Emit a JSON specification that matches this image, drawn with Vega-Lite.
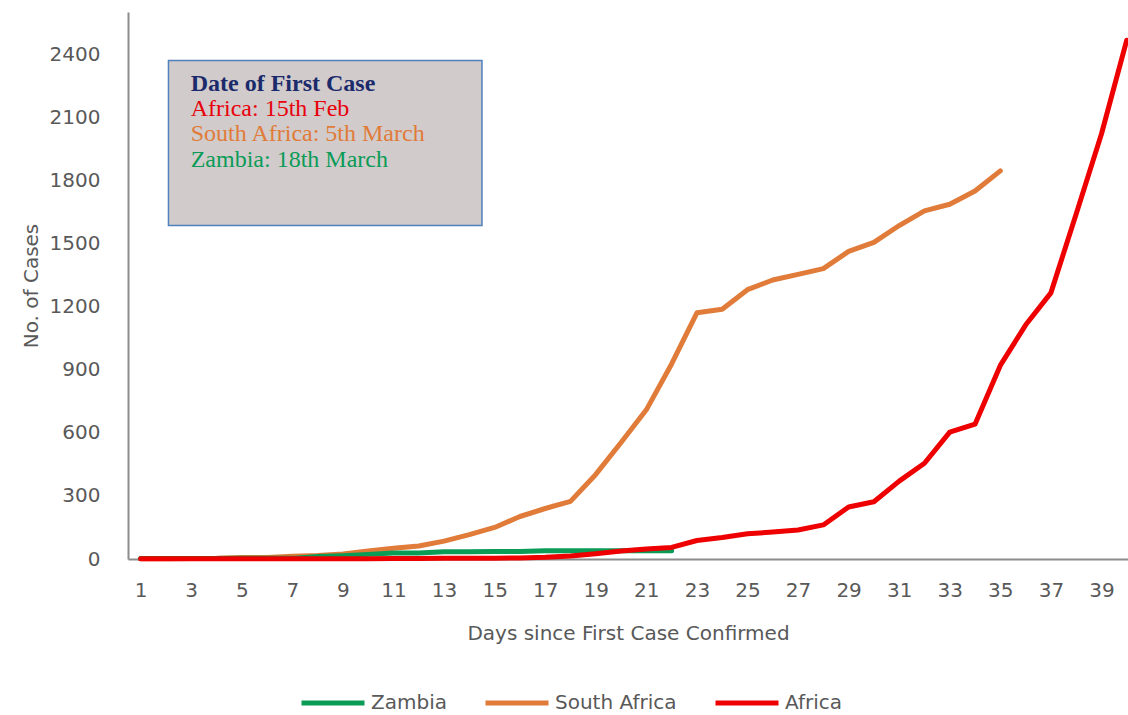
{
  "$schema": "https://vega.github.io/schema/vega-lite/v6.json",
  "autosize": "none",
  "width": 1000,
  "height": 547,
  "padding": {"left": 128, "top": 12, "right": 0, "bottom": 156},
  "background": "white",
  "config": {
    "view": {"stroke": null},
    "font": "DejaVu Sans"
  },
  "datasets": {
    "cases": [
      {"day": 1, "cases": 1, "country": "South Africa"},
      {"day": 2, "cases": 1, "country": "South Africa"},
      {"day": 3, "cases": 2, "country": "South Africa"},
      {"day": 4, "cases": 3, "country": "South Africa"},
      {"day": 5, "cases": 7, "country": "South Africa"},
      {"day": 6, "cases": 7, "country": "South Africa"},
      {"day": 7, "cases": 13, "country": "South Africa"},
      {"day": 8, "cases": 17, "country": "South Africa"},
      {"day": 9, "cases": 24, "country": "South Africa"},
      {"day": 10, "cases": 38, "country": "South Africa"},
      {"day": 11, "cases": 51, "country": "South Africa"},
      {"day": 12, "cases": 62, "country": "South Africa"},
      {"day": 13, "cases": 85, "country": "South Africa"},
      {"day": 14, "cases": 116, "country": "South Africa"},
      {"day": 15, "cases": 150, "country": "South Africa"},
      {"day": 16, "cases": 202, "country": "South Africa"},
      {"day": 17, "cases": 240, "country": "South Africa"},
      {"day": 18, "cases": 274, "country": "South Africa"},
      {"day": 19, "cases": 402, "country": "South Africa"},
      {"day": 20, "cases": 554, "country": "South Africa"},
      {"day": 21, "cases": 709, "country": "South Africa"},
      {"day": 22, "cases": 927, "country": "South Africa"},
      {"day": 23, "cases": 1170, "country": "South Africa"},
      {"day": 24, "cases": 1187, "country": "South Africa"},
      {"day": 25, "cases": 1280, "country": "South Africa"},
      {"day": 26, "cases": 1326, "country": "South Africa"},
      {"day": 27, "cases": 1353, "country": "South Africa"},
      {"day": 28, "cases": 1380, "country": "South Africa"},
      {"day": 29, "cases": 1462, "country": "South Africa"},
      {"day": 30, "cases": 1505, "country": "South Africa"},
      {"day": 31, "cases": 1585, "country": "South Africa"},
      {"day": 32, "cases": 1655, "country": "South Africa"},
      {"day": 33, "cases": 1686, "country": "South Africa"},
      {"day": 34, "cases": 1749, "country": "South Africa"},
      {"day": 35, "cases": 1845, "country": "South Africa"},
      {"day": 1, "cases": 2, "country": "Zambia"},
      {"day": 2, "cases": 2, "country": "Zambia"},
      {"day": 3, "cases": 2, "country": "Zambia"},
      {"day": 4, "cases": 2, "country": "Zambia"},
      {"day": 5, "cases": 3, "country": "Zambia"},
      {"day": 6, "cases": 3, "country": "Zambia"},
      {"day": 7, "cases": 3, "country": "Zambia"},
      {"day": 8, "cases": 12, "country": "Zambia"},
      {"day": 9, "cases": 16, "country": "Zambia"},
      {"day": 10, "cases": 22, "country": "Zambia"},
      {"day": 11, "cases": 28, "country": "Zambia"},
      {"day": 12, "cases": 29, "country": "Zambia"},
      {"day": 13, "cases": 35, "country": "Zambia"},
      {"day": 14, "cases": 35, "country": "Zambia"},
      {"day": 15, "cases": 36, "country": "Zambia"},
      {"day": 16, "cases": 36, "country": "Zambia"},
      {"day": 17, "cases": 39, "country": "Zambia"},
      {"day": 18, "cases": 39, "country": "Zambia"},
      {"day": 19, "cases": 39, "country": "Zambia"},
      {"day": 20, "cases": 39, "country": "Zambia"},
      {"day": 21, "cases": 39, "country": "Zambia"},
      {"day": 22, "cases": 39, "country": "Zambia"},
      {"day": 1, "cases": 1, "country": "Africa"},
      {"day": 2, "cases": 1, "country": "Africa"},
      {"day": 3, "cases": 1, "country": "Africa"},
      {"day": 4, "cases": 1, "country": "Africa"},
      {"day": 5, "cases": 1, "country": "Africa"},
      {"day": 6, "cases": 1, "country": "Africa"},
      {"day": 7, "cases": 1, "country": "Africa"},
      {"day": 8, "cases": 1, "country": "Africa"},
      {"day": 9, "cases": 1, "country": "Africa"},
      {"day": 10, "cases": 1, "country": "Africa"},
      {"day": 11, "cases": 2, "country": "Africa"},
      {"day": 12, "cases": 2, "country": "Africa"},
      {"day": 13, "cases": 3, "country": "Africa"},
      {"day": 14, "cases": 3, "country": "Africa"},
      {"day": 15, "cases": 4, "country": "Africa"},
      {"day": 16, "cases": 5, "country": "Africa"},
      {"day": 17, "cases": 8, "country": "Africa"},
      {"day": 18, "cases": 14, "country": "Africa"},
      {"day": 19, "cases": 25, "country": "Africa"},
      {"day": 20, "cases": 38, "country": "Africa"},
      {"day": 21, "cases": 48, "country": "Africa"},
      {"day": 22, "cases": 55, "country": "Africa"},
      {"day": 23, "cases": 88, "country": "Africa"},
      {"day": 24, "cases": 102, "country": "Africa"},
      {"day": 25, "cases": 120, "country": "Africa"},
      {"day": 26, "cases": 128, "country": "Africa"},
      {"day": 27, "cases": 138, "country": "Africa"},
      {"day": 28, "cases": 162, "country": "Africa"},
      {"day": 29, "cases": 247, "country": "Africa"},
      {"day": 30, "cases": 272, "country": "Africa"},
      {"day": 31, "cases": 370, "country": "Africa"},
      {"day": 32, "cases": 455, "country": "Africa"},
      {"day": 33, "cases": 603, "country": "Africa"},
      {"day": 34, "cases": 641, "country": "Africa"},
      {"day": 35, "cases": 920, "country": "Africa"},
      {"day": 36, "cases": 1112, "country": "Africa"},
      {"day": 37, "cases": 1265, "country": "Africa"},
      {"day": 38, "cases": 1640, "country": "Africa"},
      {"day": 39, "cases": 2020, "country": "Africa"},
      {"day": 40, "cases": 2466, "country": "Africa"}
    ],
    "box": [
      {"day_start": 2.1, "day_end": 14.5, "cases_low": 1585, "cases_high": 2370}
    ],
    "notes": [
      {"line": "title", "text": "Date of First Case", "day": 2.98, "cases": 2257},
      {"line": "Africa", "text": "Africa: 15th Feb", "day": 2.98, "cases": 2139},
      {"line": "South Africa", "text": "South Africa: 5th March", "day": 2.98, "cases": 2020},
      {"line": "Zambia", "text": "Zambia: 18th March", "day": 2.98, "cases": 1896}
    ]
  },
  "encoding": {
    "x": {
      "type": "quantitative",
      "scale": {"domain": [0.5, 40.05], "nice": false, "zero": false},
      "axis": {
        "title": "Days since First Case Confirmed",
        "values": [1, 3, 5, 7, 9, 11, 13, 15, 17, 19, 21, 23, 25, 27, 29, 31, 33, 35, 37, 39],
        "format": "d",
        "ticks": false,
        "grid": false,
        "labelFontSize": 20,
        "labelColor": "#595959",
        "labelPadding": 21,
        "labelFlush": false,
        "labelOverlap": false,
        "domainColor": "#8c8c8c",
        "domainWidth": 2,
        "titleFontSize": 20,
        "titleFontWeight": "normal",
        "titleColor": "#595959",
        "titlePadding": 23
      }
    },
    "y": {
      "type": "quantitative",
      "scale": {"domain": [0, 2600], "nice": false},
      "axis": {
        "title": "No. of Cases",
        "values": [0, 300, 600, 900, 1200, 1500, 1800, 2100, 2400],
        "format": "d",
        "ticks": false,
        "grid": false,
        "labelFontSize": 20,
        "labelColor": "#595959",
        "labelPadding": 28,
        "domainColor": "#8c8c8c",
        "domainWidth": 2,
        "titleFontSize": 20,
        "titleFontWeight": "normal",
        "titleColor": "#595959",
        "titlePadding": 8
      }
    }
  },
  "layer": [
    {
      "data": {"name": "box"},
      "mark": {"type": "rect", "fill": "#d1cbcb", "stroke": "#4f81bd", "strokeWidth": 1.5},
      "encoding": {
        "x": {"field": "day_start", "type": "quantitative"},
        "x2": {"field": "day_end"},
        "y": {"field": "cases_low", "type": "quantitative"},
        "y2": {"field": "cases_high"}
      }
    },
    {
      "data": {"name": "notes"},
      "transform": [{"filter": "datum.line === 'title'"}],
      "mark": {"type": "text", "align": "left", "baseline": "middle", "font": "Liberation Serif", "fontSize": 24, "fontWeight": "bold", "color": "#1b2a6b"},
      "encoding": {
        "x": {"field": "day", "type": "quantitative"},
        "y": {"field": "cases", "type": "quantitative"},
        "text": {"field": "text"}
      }
    },
    {
      "data": {"name": "notes"},
      "transform": [{"filter": "datum.line === 'Africa'"}],
      "mark": {"type": "text", "align": "left", "baseline": "middle", "font": "Liberation Serif", "fontSize": 24, "color": "#e8000b"},
      "encoding": {
        "x": {"field": "day", "type": "quantitative"},
        "y": {"field": "cases", "type": "quantitative"},
        "text": {"field": "text"}
      }
    },
    {
      "data": {"name": "notes"},
      "transform": [{"filter": "datum.line === 'South Africa'"}],
      "mark": {"type": "text", "align": "left", "baseline": "middle", "font": "Liberation Serif", "fontSize": 24, "color": "#e07b39"},
      "encoding": {
        "x": {"field": "day", "type": "quantitative"},
        "y": {"field": "cases", "type": "quantitative"},
        "text": {"field": "text"}
      }
    },
    {
      "data": {"name": "notes"},
      "transform": [{"filter": "datum.line === 'Zambia'"}],
      "mark": {"type": "text", "align": "left", "baseline": "middle", "font": "Liberation Serif", "fontSize": 24, "color": "#0a9b57"},
      "encoding": {
        "x": {"field": "day", "type": "quantitative"},
        "y": {"field": "cases", "type": "quantitative"},
        "text": {"field": "text"}
      }
    },
    {
      "data": {"name": "cases"},
      "transform": [{"filter": "datum.country === 'South Africa'"}],
      "mark": {"type": "line", "strokeWidth": 5, "strokeJoin": "round", "strokeCap": "round"},
      "encoding": {
        "x": {"field": "day", "type": "quantitative"},
        "y": {"field": "cases", "type": "quantitative"},
        "color": {
          "field": "country",
          "type": "nominal",
          "scale": {"domain": ["Zambia", "South Africa", "Africa"], "range": ["#0a9b57", "#e07b39", "#ee0000"]},
          "legend": {
            "title": null,
            "orient": "none",
            "direction": "horizontal",
            "legendX": 171,
            "legendY": 657,
            "symbolType": "stroke",
            "symbolSize": 3969,
            "symbolStrokeWidth": 5,
            "labelFontSize": 20,
            "labelColor": "#595959",
            "labelOffset": 4,
            "columnPadding": 28
          }
        }
      }
    },
    {
      "data": {"name": "cases"},
      "transform": [{"filter": "datum.country === 'Zambia'"}],
      "mark": {"type": "line", "strokeWidth": 5, "strokeJoin": "round", "strokeCap": "round"},
      "encoding": {
        "x": {"field": "day", "type": "quantitative"},
        "y": {"field": "cases", "type": "quantitative"},
        "color": {"field": "country", "type": "nominal"}
      }
    },
    {
      "data": {"name": "cases"},
      "transform": [{"filter": "datum.country === 'Africa'"}],
      "mark": {"type": "line", "strokeWidth": 5, "strokeJoin": "round", "strokeCap": "round"},
      "encoding": {
        "x": {"field": "day", "type": "quantitative"},
        "y": {"field": "cases", "type": "quantitative"},
        "color": {"field": "country", "type": "nominal"}
      }
    }
  ]
}
